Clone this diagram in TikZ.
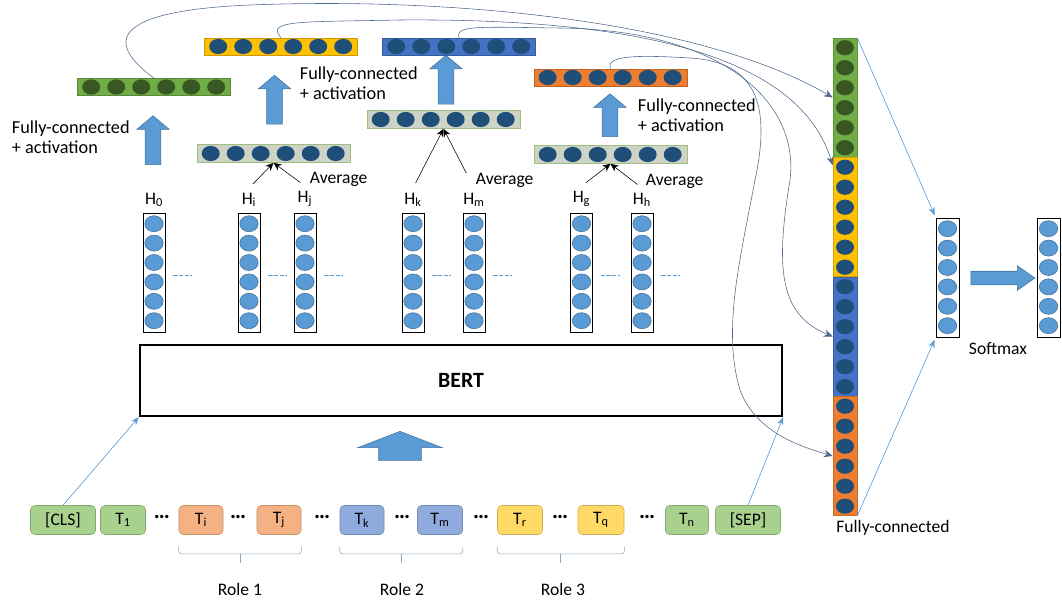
\documentclass[tikz,border=0pt]{standalone}
\usepackage{fontspec}
\setmainfont{Carlito}
\usetikzlibrary{arrows.meta,calc,positioning,shapes.arrows}
\definecolor{fcgreen}{RGB}{112,173,71}
\definecolor{fcyellow}{RGB}{255,192,0}
\definecolor{fcblue}{RGB}{68,114,196}
\definecolor{fcorange}{RGB}{237,125,49}
\definecolor{dotgreen}{RGB}{56,87,35}
\definecolor{dotblue}{RGB}{31,78,121}
\definecolor{avgfill}{RGB}{205,212,198}
\definecolor{avgedge}{RGB}{160,190,130}
\definecolor{hidblue}{RGB}{91,155,213}
\definecolor{hidedge}{RGB}{65,113,156}
\definecolor{lineblue}{RGB}{91,155,213}
\definecolor{curvegray}{RGB}{78,104,140}
\definecolor{tokgreen}{RGB}{169,209,142}
\definecolor{tokorange}{RGB}{244,177,131}
\definecolor{tokblue}{RGB}{143,170,220}
\definecolor{tokyellow}{RGB}{255,217,102}
\definecolor{bracegray}{RGB}{142,169,193}

\begin{document}
\begin{tikzpicture}[
    x=0.025cm, y=-0.025cm,
    font=\fontsize{12.5}{13.5}\selectfont,
    vecbar/.style={draw=#1!80!black, fill=#1, minimum width=3.825cm, minimum height=0.43cm, inner sep=0pt},
    avgbar/.style={draw=avgedge, fill=avgfill, minimum width=3.825cm, minimum height=0.45cm, inner sep=0pt},
    hcol/.style={draw=black, minimum width=0.55cm, minimum height=2.975cm, inner sep=0pt},
    colseg/.style={draw=#1!85!black, fill=#1, minimum width=0.6cm, minimum height=2.975cm, inner sep=0pt},
    token/.style={draw=#1!80!black, fill=#1, rounded corners=3pt, minimum height=0.725cm, inner sep=1pt},
    blockup/.style={single arrow, shape border rotate=90, draw=hidedge, fill=hidblue, inner ysep=0pt, inner xsep=0.19cm,
        minimum height=1.22cm, single arrow head extend=0.21cm, single arrow tip angle=100},
    fclabel/.style={anchor=west, align=left, font=\fontsize{13}{14.5}\selectfont},
    thinarrow/.style={-{Stealth[length=2mm,width=1.6mm]}, draw=lineblue, fill=lineblue},
    curvearrow/.style={-{Stealth[length=2.2mm,width=1.8mm]}, draw=curvegray},
    avgarrow/.style={-{Stealth[length=2mm,width=1.8mm]}, black, shorten <=4pt},
    skipline/.style={draw=lineblue, dash pattern=on 3pt off 1pt},
    rolebracket/.style={draw=bracegray, rounded corners=2pt}
]
\useasboundingbox (0,0) rectangle (1062,599);

% input tokens
\node[token=tokgreen, minimum width=1.625cm] (cls) at (63,520) {[CLS]};
\node[token=tokgreen, minimum width=1.125cm] (t1) at (123,520) {T\textsubscript{1}};
\node[token=tokorange, minimum width=1.1cm] (ti) at (201,520) {T\textsubscript{i}};
\node[token=tokorange, minimum width=1.1cm] (tj) at (279,520) {T\textsubscript{j}};
\node[token=tokblue, minimum width=1.1cm] (tk) at (362,520) {T\textsubscript{k}};
\node[token=tokblue, minimum width=1.125cm] (tm) at (440,520) {T\textsubscript{m}};
\node[token=tokyellow, minimum width=1.125cm] (tr) at (520,520) {T\textsubscript{r}};
\node[token=tokyellow, minimum width=1.15cm] (tq) at (601,520) {T\textsubscript{q}};
\node[token=tokgreen, minimum width=1.075cm] (tn) at (687,520) {T\textsubscript{n}};
\node[token=tokgreen, minimum width=1.625cm] (sep) at (748,520) {[SEP]};
\foreach \x in {162,238,322,402,481,560,647}
  \node at (\x,517) {\fontsize{16}{16}\selectfont\bfseries …};

% roles
\foreach \a/\b in {ti/tj,tk/tm,tr/tq} {
  \draw[rolebracket] ($(\a.south west)+(0,12)$) -- ++(0,7) -- ($(\b.south east)+(0,19)$) -- ++(0,-7);
  \draw[draw=bracegray] ($(\a.south west)!0.5!(\b.south east)+(0,19)$) -- ++(0,9);
}
\node (roleA) at (240,589) {Role 1};
\node (roleB) at (402,589) {Role 2};
\node (roleC) at (563,589) {Role 3};

% encoder
\node[draw=black, line width=1.6pt, minimum width=16.05cm, minimum height=1.775cm] (bert) at (461,380.5) {\fontsize{15.5}{17}\selectfont\bfseries BERT};
\node[blockup, inner xsep=0.525cm, minimum height=0.725cm, single arrow head extend=0.525cm, single arrow tip angle=138] (feed) at (400,450) {};
\draw[thinarrow] (cls.north) -- (bert.south west);
\draw[thinarrow] (sep.north) -- (bert.south east);

% hidden states
\node[hcol] (h0) at (154,272.5) {};
\node[hcol] (hi) at (249,272.5) {};
\node[hcol] (hj) at (305,272.5) {};
\node[hcol] (hk) at (413,272.5) {};
\node[hcol] (hm) at (474,272.5) {};
\node[hcol] (hg) at (581.5,272.5) {};
\node[hcol] (hh) at (642,272.5) {};
\node[above=0.02cm of h0] (lh0) {H\textsubscript{0}};
\node[above=0.02cm of hi] (lhi) {H\textsubscript{i}};
\node[above=0.02cm of hj] (lhj) {H\textsubscript{j}};
\node[above=0.02cm of hk] (lhk) {H\textsubscript{k}};
\node[above=0.02cm of hm] (lhm) {H\textsubscript{m}};
\node[above=0.02cm of hg] (lhg) {H\textsubscript{g}};
\node[above=0.02cm of hh] (lhh) {H\textsubscript{h}};
\foreach \h in {h0,hi,hj,hk,hm,hg,hh}
  \draw[skipline] ($(\h.east)+(8,2.5)$) -- ++(19,0);

% averaged role vectors
\node[avgbar] (avgA) at (273.5,153.5) {};
\node[avgbar] (avgB) at (443.5,119.5) {};
\node[avgbar] (avgC) at (610.5,154.5) {};
\draw[avgarrow] (lhi.north) -- (avgA.south);
\draw[avgarrow] (lhj.north) -- (avgA.south);
\draw[avgarrow] (lhk.north) -- (avgB.south);
\draw[avgarrow, shorten <=12pt] (lhm.north) -- (avgB.south);
\draw[avgarrow] (lhg.north) -- (avgC.south);
\draw[avgarrow] (lhh.north) -- (avgC.south);
\node[anchor=west] at (305,179) {Average};
\node[anchor=west] at (471,180) {Average};
\node[anchor=west] at (641,181) {Average};

% fully-connected layers
\node[blockup] (upCLS) at (153,143.5) {};
\node[blockup] (upA) at (274.5,103) {};
\node[blockup] (upB) at (446,83) {};
\node[blockup, minimum height=1.07cm] (upC) at (610,118.5) {};
\node[fclabel] at (7,137) {Fully-connected\\+ activation};
\node[fclabel] at (295,83) {Fully-connected\\+ activation};
\node[fclabel] at (633,115) {Fully-connected\\+ activation};
\node[vecbar=fcgreen] (fcCLS) at (154,87) {};
\node[vecbar=fcyellow] (fcRoleA) at (281,46.5) {};
\node[vecbar=fcblue] (fcRoleB) at (459,46.5) {};
\node[vecbar=fcorange] (fcRoleC) at (610.5,77.5) {};
\foreach \b/\c in {fcCLS/dotgreen,fcRoleA/dotblue,fcRoleB/dotblue,fcRoleC/dotblue,avgA/dotblue,avgB/dotblue,avgC/dotblue}
  \foreach \k in {0,...,5}
    \fill[fill=\c] ($(\b.west)+(14+25*\k,0)$) ellipse (0.225cm and 0.19cm);

% concatenation
\node[colseg=fcgreen] (colCLS) at (845,97.5) {};
\node[colseg=fcyellow] (colRoleA) at (845,217) {};
\node[colseg=fcblue] (colRoleB) at (845,336.5) {};
\node[colseg=fcorange] (colRoleC) at (845,456) {};
\foreach \s/\c in {colCLS/dotgreen,colRoleA/dotblue,colRoleB/dotblue,colRoleC/dotblue}
  \foreach \k in {0,...,5}
    \fill[fill=\c] ($(\s.north)+(0,10+20*\k)$) ellipse (0.225cm and 0.19cm);
\node (fcout) at (893,528) {Fully-connected};

\draw[curvearrow] (fcCLS.north) .. controls (95,35) and (130,10) .. (250,5)
    .. controls (450,-3) and (700,20) .. (colCLS.west);
\draw[curvearrow] (fcRoleA.north) .. controls (265,20) and (300,22) .. (400,20)
    .. controls (650,18) and (800,60) .. ($(colRoleA.north west)+(0,8)$);
\draw[curvearrow] (fcRoleB.north) .. controls (455,25) and (480,27) .. (560,28)
    .. controls (720,30) and (800,100) .. (790,180) .. controls (775,270) and (780,315) .. (colRoleB.west);
\draw[curvearrow] (fcRoleC.north) .. controls (605,55) and (640,55) .. (690,58)
    .. controls (760,62) and (770,110) .. (755,180) .. controls (740,260) and (722,330) .. (740,390)
    .. controls (755,430) and (795,445) .. (colRoleC.west);

% output
\node[hcol, minimum width=0.575cm] (outA) at (947.5,277.5) {};
\node[hcol, minimum width=0.575cm] (outB) at (1048.5,277.5) {};
\foreach \h in {h0,hi,hj,hk,hm,hg,hh,outA,outB}
  \foreach \k in {0,...,5}
    \filldraw[fill=hidblue, draw=hidedge] ($(\h.north)+(0,11+19.4*\k)$) ellipse (0.23cm and 0.2cm);
\draw[thinarrow, shorten >=2pt] (colCLS.north east) -- (outA.north west);
\draw[thinarrow, shorten >=2pt] (colRoleC.south east) -- (outA.south west);
\node[single arrow, draw=hidedge, fill=hidblue, inner xsep=0pt, inner ysep=0.1625cm, minimum height=1.6cm,
    single arrow head extend=0.1375cm, single arrow tip angle=70] (softarrow) at (998,278) {};
\node (softlabel) at (998,349) {Softmax};
\end{tikzpicture}
\end{document}
